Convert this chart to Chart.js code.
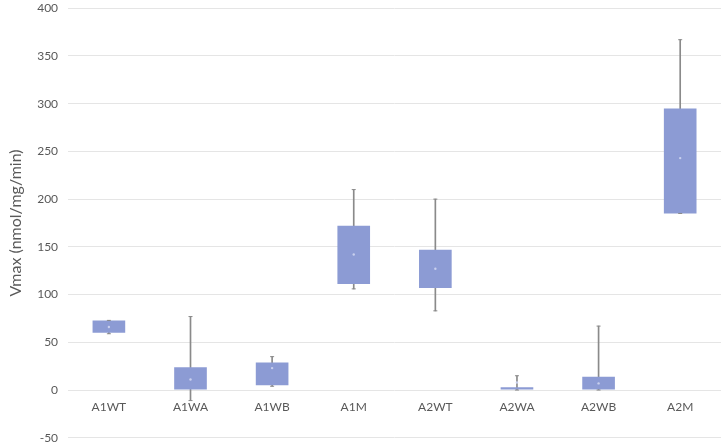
<!DOCTYPE html>
<html>
<head>
<meta charset="utf-8">
<script src="https://cdn.jsdelivr.net/npm/chart.js@4.4.1/dist/chart.umd.min.js"></script>
<style>
  html, body { margin: 0; padding: 0; background: #fff; overflow: hidden; }
  #wrap { position: relative; top: -9px; width: 726px; height: 464px; }
</style>
</head>
<body>
<div id="wrap"><canvas id="chart"></canvas></div>
<script>
// box plot values
const categories = ['A1WT', 'A1WA', 'A1WB', 'A1M', 'A2WT', 'A2WA', 'A2WB', 'A2M'];
const whiskerMin = [59, -11, 4, 106, 83, 0, 0, 185];
const boxLow = [60, 0, 5, 111, 107, 0, 0, 185];
const boxHigh = [73, 24, 29, 172, 147, 3, 14, 295];
const whiskerMax = [73, 77, 35, 210, 200, 15, 67, 367];
const means = [66, 11, 23, 142, 127, 8, 7, 243];
const yTicks = [-50, 0, 50, 100, 150, 200, 250, 300, 350, 400];

const boxColor = '#8c9bd4';
const lineColor = '#8a8a8a';
const textColor = '#595959';

const boxes = categories.map(function (c, i) { return [boxLow[i], boxHigh[i]]; });
const whiskers = categories.map(function (c, i) { return [whiskerMin[i], whiskerMax[i]]; });

const data = {
  labels: categories,
  datasets: [
    {
      label: 'box',
      data: boxes,
      backgroundColor: boxColor,
      borderWidth: 0,
      grouped: false,
      barPercentage: 0.4,
      categoryPercentage: 1,
      order: 2,
    },
    {
      label: 'whisker',
      data: whiskers,
      backgroundColor: lineColor,
      borderWidth: 0,
      grouped: false,
      barThickness: 1,
      order: 3,
    },
    {
      type: 'line',
      label: 'max',
      data: whiskerMax,
      showLine: false,
      pointStyle: 'line',
      pointRadius: 2,
      borderColor: lineColor,
      borderWidth: 1,
      order: 1,
    },
    {
      type: 'line',
      label: 'min',
      data: whiskerMin,
      showLine: false,
      pointStyle: 'line',
      pointRadius: 2,
      borderColor: lineColor,
      borderWidth: 1,
      order: 1,
    },
    {
      type: 'line',
      label: 'mean',
      data: means,
      showLine: false,
      pointRadius: 1.2,
      pointBackgroundColor: '#c9d0ee',
      pointBorderWidth: 0,
      order: 0,
    },
  ]
};

const config = {
  type: 'bar',
  data: data,
  options: {
    responsive: true,
    maintainAspectRatio: false,
    animation: false,
    layout: { padding: { top: 2, right: 0, bottom: 0, left: 6 } },
    plugins: {
      legend: { display: false },
      tooltip: { enabled: false },
    },
    scales: {
      x: {
        position: { y: 0 },
        grid: { display: false, drawTicks: false },
        border: { display: false },
        ticks: {
          color: textColor,
          font: { family: 'Lato', size: 12 },
          padding: 10,
        },
      },
      y: {
        min: -50,
        max: 400,
        afterBuildTicks: function (scale) {
          scale.ticks = yTicks.map(function (v) { return { value: v }; });
        },
        grid: { color: '#e5e5e5', drawTicks: false },
        border: { display: false },
        ticks: {
          color: textColor,
          font: { family: 'Lato', size: 12 },
          padding: 10,
        },
        title: {
          display: true,
          text: 'Vmax (nmol/mg/min)',
          color: textColor,
          font: { family: 'Lato', size: 16 },
          padding: { top: 0, bottom: 2 },
        },
      },
    },
  },
};

new Chart(document.getElementById('chart'), config);
</script>
</body>
</html>
